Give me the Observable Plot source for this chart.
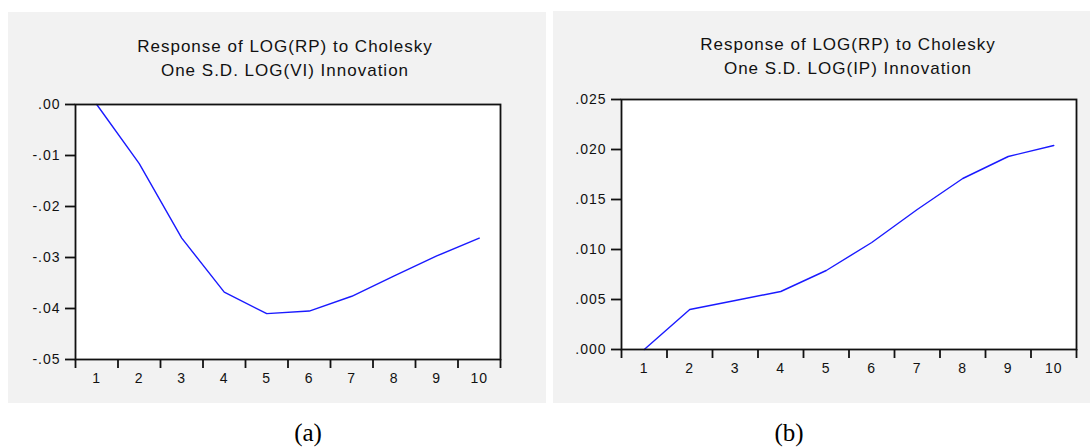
<!DOCTYPE html>
<html>
<head>
<meta charset="utf-8">
<script src="https://cdn.jsdelivr.net/npm/d3@7"></script>
<script src="https://cdn.jsdelivr.net/npm/@observablehq/plot@0.6"></script>
<style>
  html, body { margin: 0; padding: 0; background: #ffffff; }
  body { width: 1090px; height: 448px; position: relative; overflow: hidden;
         font-family: "Liberation Sans", Arial, sans-serif; }
  .panel { position: absolute; background: #f2f2f2; }
  .plotbox { position: absolute; }
  .title { position: absolute; width: 440px; text-align: center; font-size: 17px;
           letter-spacing: 1px; line-height: 24px; color: #111; white-space: nowrap; }
  .cap { position: absolute; width: 80px; text-align: center; line-height: 30px;
         font-family: "Liberation Serif", "Times New Roman", serif; font-size: 25px; color: #000; }
</style>
</head>
<body>
<script>
// ---- data ----
const periods = [1, 2, 3, 4, 5, 6, 7, 8, 9, 10];
const respVI = [0.0000, -0.0116, -0.0262, -0.0368, -0.0410, -0.0405, -0.0376, -0.0336, -0.0297, -0.0262];
const respIP = [0.0000, 0.0040, 0.0049, 0.0058, 0.0079, 0.0107, 0.0140, 0.0171, 0.0193, 0.0204];
const yTicksVI = [-0.05, -0.04, -0.03, -0.02, -0.01, 0.00];
const yTicksIP = [0.000, 0.005, 0.010, 0.015, 0.020, 0.025];
const titleVI = ["Response of LOG(RP) to Cholesky", "One S.D. LOG(VI) Innovation"];
const titleIP = ["Response of LOG(RP) to Cholesky", "One S.D. LOG(IP) Innovation"];
const captions = ["(a)", "(b)"];

function noLeadZero(digits) {
  const f = d3.format("." + digits + "f");
  return d => f(d).replace("0.", ".").replace("−", "-");
}

function makeChart(cfg) {
  const data = periods.map((p, i) => ({period: p, value: cfg.values[i]}));
  const bounds = d3.range(0.5, periods.length + 1, 1);
  return Plot.plot({
    width: cfg.width,
    height: cfg.height,
    marginLeft: cfg.ml, marginRight: cfg.mr, marginTop: cfg.mt, marginBottom: cfg.mb,
    style: "background: transparent; font-family: 'Liberation Sans', Arial, sans-serif; font-size: 14px; letter-spacing: 1px; color: #111; overflow: visible;",
    x: {domain: [0.5, periods.length + 0.5], label: null},
    y: {domain: cfg.yDomain, label: null},
    marks: [
      Plot.frame({fill: "white", stroke: null}),
      Plot.axisX(bounds, {tickSize: 9, tickFormat: () => "", strokeWidth: 1.8, stroke: "#111"}),
      Plot.axisX(periods, {tickSize: 0, tickPadding: 14, tickFormat: d => String(d), fill: "#111", fontSize: 14}),
      Plot.axisY(cfg.yTicks, {tickSize: 10, tickPadding: 5, tickFormat: cfg.fmt, strokeWidth: 1.8, stroke: "#111", fill: "#111", fontSize: 14}),
      Plot.line(data, {x: "period", y: "value", stroke: "#1a1aff", strokeWidth: 1.4}),
      Plot.frame({stroke: "#111", strokeWidth: 1.8})
    ]
  });
}

function addPanel(p) {
  const panel = document.createElement("div");
  panel.className = "panel";
  Object.assign(panel.style, {left: p.left + "px", top: p.top + "px", width: p.width + "px", height: p.height + "px"});
  document.body.appendChild(panel);

  const box = document.createElement("div");
  box.className = "plotbox";
  Object.assign(box.style, {left: p.left + "px", top: p.top + "px", width: p.width + "px", height: p.height + "px"});
  box.appendChild(makeChart(p.chart));
  document.body.appendChild(box);

  const t = document.createElement("div");
  t.className = "title";
  t.style.left = (p.titleX - 220) + "px";
  t.style.top = p.titleY + "px";
  t.innerHTML = p.title.map(s => "<div>" + s + "</div>").join("");
  document.body.appendChild(t);

  const c = document.createElement("div");
  c.className = "cap";
  c.style.left = (p.capX - 40) + "px";
  c.style.top = p.capY + "px";
  c.textContent = p.caption;
  document.body.appendChild(c);
}

addPanel({
  left: 8, top: 12, width: 538, height: 391,
  titleX: 285, titleY: 35, title: titleVI,
  capX: 308, capY: 418, caption: captions[0],
  chart: {values: respVI, yDomain: [-0.05, 0], yTicks: yTicksVI, fmt: noLeadZero(2),
          width: 538, height: 391, ml: 67, mr: 46, mt: 92, mb: 44}
});

addPanel({
  left: 553, top: 11, width: 537, height: 392,
  titleX: 848, titleY: 33, title: titleIP,
  capX: 789, capY: 418, caption: captions[1],
  chart: {values: respIP, yDomain: [0, 0.025], yTicks: yTicksIP, fmt: noLeadZero(3),
          width: 537, height: 392, ml: 68, mr: 14, mt: 88, mb: 54}
});
</script>
</body>
</html>
